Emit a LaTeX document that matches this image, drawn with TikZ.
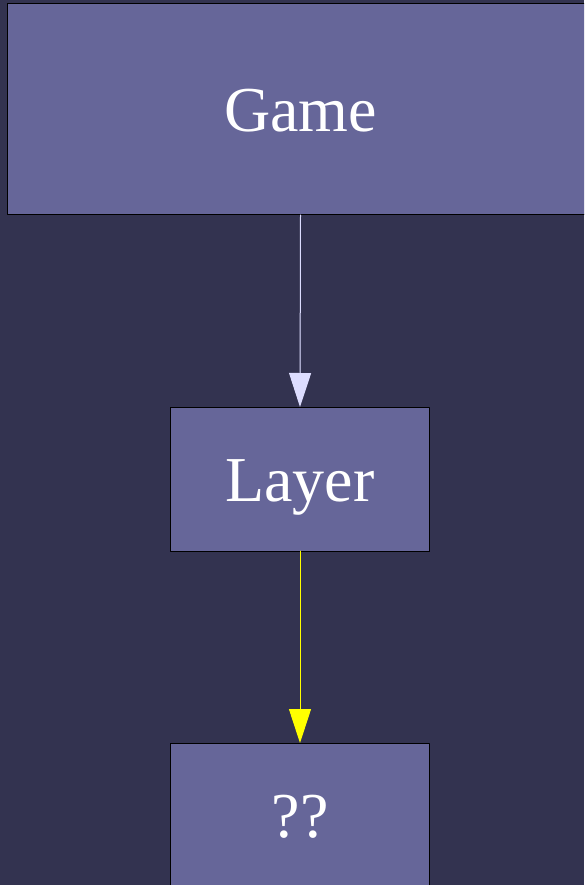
\documentclass[tikz,border=0pt]{standalone}
\usepackage{fontspec}
\setmainfont{Liberation Serif}
\usetikzlibrary{arrows.meta}
\definecolor{bgnavy}{HTML}{333350}
\definecolor{boxfill}{HTML}{666699}
\definecolor{lavender}{HTML}{DDDDFF}
\definecolor{linkyellow}{HTML}{FFFF00}
\tikzset{
  cls/.style={draw=black,fill=boxfill,line width=1pt,text=white,
    font=\fontsize{64}{70}\selectfont,text height=44pt,text depth=0pt,
    inner sep=0pt,outer sep=0pt},
  link/.style={line width=1pt,-{Triangle[length=34pt,width=22pt]}}
}
\begin{document}
\begin{tikzpicture}[line cap=round,line join=round,x=1pt,y=-1pt]
\useasboundingbox (0,0) rectangle (584,885);
\fill[bgnavy] (0,0) rectangle (584,885);
\clip (0,0) rectangle (584,885);
\node[cls,minimum width=586pt,minimum height=211pt] (game) at (300.5,109.5) {Game};
\node[cls,minimum width=259pt,minimum height=144pt] (layer) at (300,479) {Layer};
\node[cls,minimum width=259pt,minimum height=144pt] (unknown) at (300,815) {??};
\draw[link,draw=lavender,fill=lavender] (game.south) -- (layer.north);
\draw[link,draw=linkyellow,fill=linkyellow] (layer.south) -- (unknown.north);
\end{tikzpicture}
\end{document}
